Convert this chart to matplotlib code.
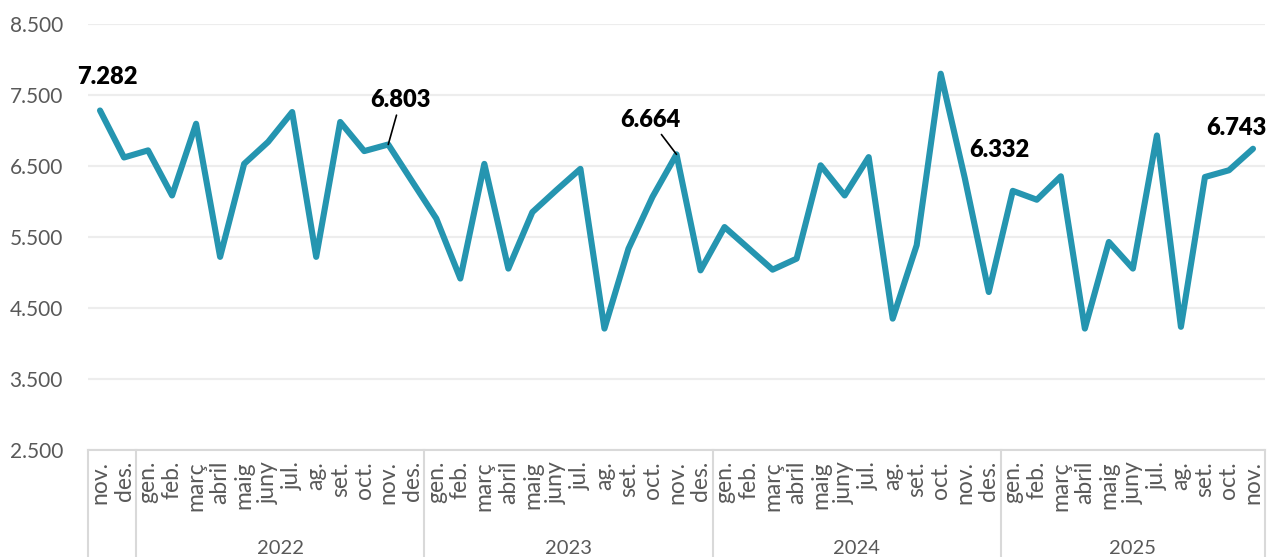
import matplotlib.pyplot as plt
from matplotlib.ticker import FuncFormatter
from matplotlib.transforms import blended_transform_factory

# monthly values, nov 2021 -> nov 2025
months = ["nov.", "des."] + ["gen.", "feb.", "març", "abril", "maig", "juny",
                             "jul.", "ag.", "set.", "oct.", "nov.", "des."] * 3 + \
         ["gen.", "feb.", "març", "abril", "maig", "juny", "jul.", "ag.",
          "set.", "oct.", "nov."]
years = ["2022", "2023", "2024", "2025"]
year_start = [2, 14, 26, 38]
year_end = [13, 25, 37, 48]
values = [7282, 6620, 6720, 6085, 7095, 5220, 6530, 6840, 7260, 5220, 7120, 6710,
          6803, 6280, 5760, 4915, 6530, 5055, 5850, 6160, 6460, 4210, 5335, 6065,
          6664, 5030, 5640, 5340, 5040, 5195, 6510, 6085, 6625, 4350, 5385, 7800,
          6332, 4725, 6150, 6025, 6355, 4210, 5430, 5055, 6930, 4235, 6345, 6440,
          6743]
labelled = [0, 12, 24, 36, 48]
label_offsets = [(5, 24), (9, 32), (-19, 25), (25, 20), (-12, 15)]
leader = [False, True, True, False, False]

plt.rcParams['font.family'] = ['Lato', 'DejaVu Sans']

fig = plt.figure(figsize=(12.7, 5.57), dpi=100)
ax = fig.add_axes([88 / 1270, 1 - 450 / 557, (1265 - 88) / 1270, (450 - 24) / 557])

x = list(range(len(values)))
ax.plot(x, values, color="#2595B0", lw=4.4, solid_joinstyle="round",
        solid_capstyle="round", zorder=3)

for i, (dx, dy), ld in zip(labelled, label_offsets, leader):
    txt = f"{values[i]:,}".replace(",", ".")
    ax.annotate(txt, xy=(i, values[i]), xytext=(dx, dy), textcoords="offset points",
                ha="center", va="center", fontsize=17, fontweight="heavy",
                color="black", zorder=4,
                arrowprops=dict(arrowstyle="-", color="black", lw=1.2,
                                shrinkA=1, shrinkB=0) if ld else None)

ax.set_ylim(2500, 8500)
ax.set_yticks(range(2500, 8501, 1000))
ax.yaxis.set_major_formatter(FuncFormatter(lambda v, p: f"{int(v):,}".replace(",", ".")))
ax.grid(axis="y", color="#ededed", lw=1.6, zorder=0)
ax.set_axisbelow(True)
ax.set_xlim(-0.5, len(values) - 0.5)
ax.set_xticks(x)
ax.set_xticklabels(months, rotation=90, fontsize=16.5, color="#595959")
ax.tick_params(axis="x", length=0, pad=8)
ax.tick_params(axis="y", length=0, pad=18, labelsize=15, labelcolor="#595959")

for s in ["top", "right", "left"]:
    ax.spines[s].set_visible(False)
ax.spines["bottom"].set_color("#d9d9d9")
ax.spines["bottom"].set_linewidth(1.5)

# year group labels and separators
tr = blended_transform_factory(ax.transData, ax.transAxes)
bottom = -107 / 426
for b in [-0.5, 1.5, 13.5, 25.5, 37.5, 48.5]:
    ax.plot([b, b], [0, bottom], transform=tr, color="#d9d9d9", lw=1.5, clip_on=False)
for yr, s, e in zip(years, year_start, year_end):
    ax.text((s + e) / 2, -98 / 426, yr, transform=tr, ha="center", va="center",
            fontsize=14.5, color="#595959")

fig.savefig("out.png", dpi=100)
